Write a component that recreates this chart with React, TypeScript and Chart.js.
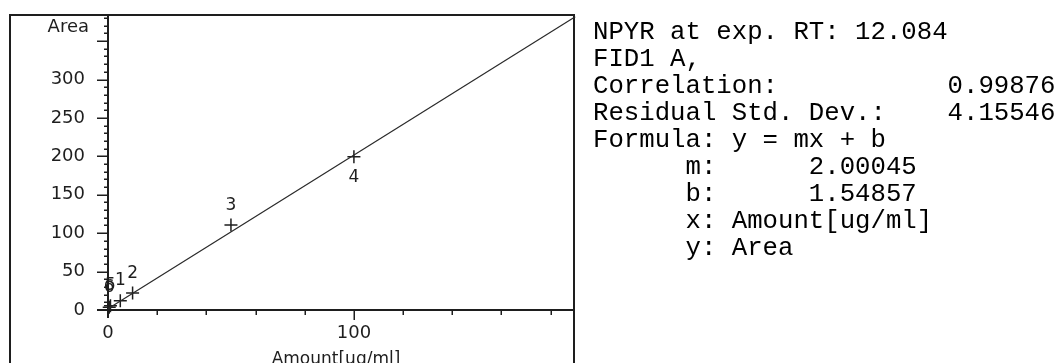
import React, { useEffect, useRef } from "react";
import { Chart, registerables } from "chart.js";

Chart.register(...registerables);

// ---- data ----
const levelLabels = ["1", "2", "3", "4", "5", "6"];
const amounts = [5, 10, 50, 100, 1, 0.5];
const areas = [12, 22, 110.5, 199.5, 5.5, 3.5];
const fitAmount = [0, 190];
const fitArea = [1.55, 381.6];

const xMax = 189.5;
const yMax = 384;
const xMinorStep = 20;
const xMajorStep = 100;
const yMinorStep = 10;
const yMajorStep = 50;
const yLabelMax = 300;

const infoLines = [
  "NPYR at exp. RT: 12.084",
  "FID1 A,",
  "Correlation:           0.99876",
  "Residual Std. Dev.:    4.15546",
  "Formula: y = mx + b",
  "      m:      2.00045",
  "      b:      1.54857",
  "      x: Amount[ug/ml]",
  "      y: Area",
];

const FONT = "'DejaVu Sans', 'Liberation Sans', Arial, sans-serif";
const INK = "#1e1e1e";

const framePlugin = {
  id: "frameAndTicks",
  beforeDatasetsDraw(chart: any) {
    const { ctx, chartArea: a, scales } = chart;
    const x = scales.x;
    const y = scales.y;
    ctx.save();
    ctx.strokeStyle = INK;
    ctx.lineWidth = 2;
    // outer frame (bottom is off-image)
    ctx.beginPath();
    ctx.moveTo(10, chart.height);
    ctx.lineTo(10, a.top);
    ctx.lineTo(a.right, a.top);
    ctx.lineTo(a.right, chart.height);
    ctx.stroke();
    // axes
    ctx.beginPath();
    ctx.moveTo(a.left, a.top);
    ctx.lineTo(a.left, a.bottom + 8);
    ctx.moveTo(a.left - 11, a.bottom);
    ctx.lineTo(a.right, a.bottom);
    ctx.stroke();
    // y ticks (left of axis)
    ctx.lineWidth = 1.5;
    ctx.beginPath();
    for (let v = yMinorStep; v <= yMax; v += yMinorStep) {
      const py = Math.round(y.getPixelForValue(v)) + 0.25;
      const len = v % yMajorStep === 0 ? 11 : 4;
      ctx.moveTo(a.left - len, py);
      ctx.lineTo(a.left, py);
    }
    // x ticks (below axis)
    for (let v = xMinorStep; v <= xMax; v += xMinorStep) {
      const px = Math.round(x.getPixelForValue(v)) + 0.25;
      const len = v % xMajorStep === 0 ? 10 : 5;
      ctx.moveTo(px, a.bottom);
      ctx.lineTo(px, a.bottom + len);
    }
    ctx.stroke();
    // axis titles
    ctx.fillStyle = INK;
    ctx.font = `18px ${FONT}`;
    ctx.textAlign = "right";
    ctx.textBaseline = "middle";
    ctx.fillText("Area", a.left - 19, a.top + 12);
    ctx.font = `17px ${FONT}`;
    ctx.textAlign = "center";
    ctx.textBaseline = "alphabetic";
    ctx.fillText("Amount[ug/ml]", (a.left + a.right) / 2 - 5, 364);
    ctx.restore();
  },
  afterDatasetsDraw(chart: any) {
    const { ctx, scales } = chart;
    const x = scales.x;
    const y = scales.y;
    ctx.save();
    ctx.fillStyle = INK;
    ctx.font = `17px ${FONT}`;
    ctx.textAlign = "center";
    ctx.textBaseline = "middle";
    levelLabels.forEach((lab, i) => {
      const fitted =
        fitArea[0] + ((fitArea[1] - fitArea[0]) / (fitAmount[1] - fitAmount[0])) * (amounts[i] - fitAmount[0]);
      const above = areas[i] >= fitted;
      const px = x.getPixelForValue(amounts[i]);
      const py = y.getPixelForValue(areas[i]);
      ctx.fillText(lab, px, py + (above ? -20 : 21));
    });
    ctx.restore();
  },
};

export default function App() {
  const canvasRef = useRef<HTMLCanvasElement | null>(null);

  useEffect(() => {
    document.body.style.margin = "0";
    const canvas = canvasRef.current;
    if (!canvas) return;
    const chart = new Chart(canvas, {
      type: "scatter",
      data: {
        datasets: [
          {
            label: "Calibration line",
            type: "line",
            data: fitAmount.map((v, i) => ({ x: v, y: fitArea[i] })),
            borderColor: "#2a2a2a",
            borderWidth: 1.2,
            pointRadius: 0,
            fill: false,
          },
          {
            label: "Levels",
            data: amounts.map((v, i) => ({ x: v, y: areas[i] })),
            pointStyle: "cross",
            pointRadius: 6.5,
            pointBorderWidth: 1.5,
            borderColor: INK,
            backgroundColor: INK,
          },
        ],
      },
      options: {
        animation: false,
        responsive: false,
        clip: false as any,
        layout: { padding: { left: 10, top: 15, right: 486, bottom: 0 } },
        plugins: { legend: { display: false }, tooltip: { enabled: false }, title: { display: false } },
        scales: {
          x: {
            type: "linear",
            min: 0,
            max: xMax,
            grid: { display: false, drawTicks: false },
            border: { display: false },
            ticks: {
              stepSize: xMinorStep,
              autoSkip: false,
              maxRotation: 0,
              padding: 13,
              color: INK,
              font: { family: FONT, size: 18 },
              callback: (v: any) => (Number(v) % xMajorStep === 0 ? String(v) : ""),
            },
            afterFit: (s: any) => {
              s.height = 53;
              s.paddingLeft = 0;
              s.paddingRight = 0;
              s.paddingTop = 0;
              s.paddingBottom = 0;
            },
          },
          y: {
            type: "linear",
            min: 0,
            max: yMax,
            grid: { display: false, drawTicks: false },
            border: { display: false },
            ticks: {
              stepSize: yMinorStep,
              autoSkip: false,
              padding: 23,
              color: INK,
              font: { family: FONT, size: 18 },
              callback: (v: any) =>
                Number(v) % yMajorStep === 0 && Number(v) <= yLabelMax ? String(v) : "",
            },
            afterFit: (s: any) => {
              s.width = 98;
              s.paddingLeft = 0;
              s.paddingRight = 0;
              s.paddingTop = 0;
              s.paddingBottom = 0;
            },
          },
        },
      },
      plugins: [framePlugin],
    });
    return () => chart.destroy();
  }, []);

  return (
    <div
      style={{
        position: "absolute",
        left: 0,
        top: 0,
        width: 1060,
        height: 363,
        background: "#fff",
        overflow: "hidden",
      }}
    >
      <canvas ref={canvasRef} width={1060} height={363} style={{ position: "absolute", left: 0, top: 0 }} />
      <pre
        style={{
          position: "absolute",
          left: 593,
          top: 19,
          margin: 0,
          fontFamily: "'Liberation Mono', 'Courier New', monospace",
          fontSize: "25.7px",
          lineHeight: "27px",
          color: "#000",
        }}
      >
        {infoLines.join("\n")}
      </pre>
    </div>
  );
}
